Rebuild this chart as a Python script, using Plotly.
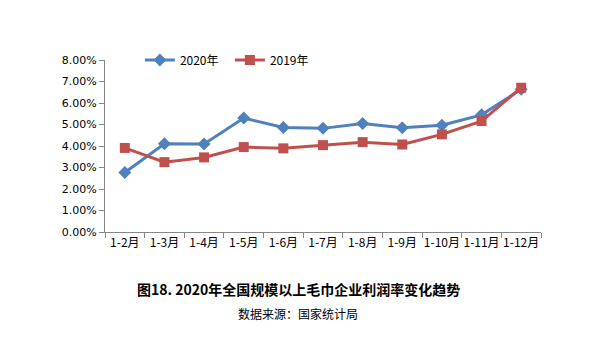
import plotly.graph_objects as go

months = ["1-2月", "1-3月", "1-4月", "1-5月", "1-6月", "1-7月", "1-8月", "1-9月", "1-10月", "1-11月", "1-12月"]
rate_2020 = [2.77, 4.10, 4.09, 5.30, 4.86, 4.82, 5.05, 4.85, 4.97, 5.45, 6.64]
rate_2019 = [3.91, 3.25, 3.47, 3.95, 3.89, 4.04, 4.18, 4.07, 4.54, 5.16, 6.71]
y_ticks = [0, 1, 2, 3, 4, 5, 6, 7, 8]

BLUE = "#4F81BD"
RED = "#C0504D"
LATIN = "Tahoma, 'DejaVu Sans', sans-serif"
CJK = "'Noto Sans CJK SC', sans-serif"

fig = go.Figure()
fig.add_trace(go.Scatter(
    x=months, y=rate_2020, name="2020年", mode="lines+markers",
    line=dict(color=BLUE, width=3),
    marker=dict(symbol="diamond", size=10, color=BLUE),
))
fig.add_trace(go.Scatter(
    x=months, y=rate_2019, name="2019年", mode="lines+markers",
    line=dict(color=RED, width=3),
    marker=dict(symbol="square", size=10, color=RED),
))

fig.update_layout(
    width=610, height=346,
    margin=dict(l=105, r=69, t=60, b=114),
    paper_bgcolor="white", plot_bgcolor="white",
    font=dict(family=LATIN, size=11, color="black"),
    legend=dict(
        orientation="h", x=0.08, y=1.0, xanchor="left", yanchor="middle",
        bgcolor="rgba(0,0,0,0)", font=dict(family=CJK, size=12),
        itemwidth=30, entrywidth=45, entrywidthmode="pixels", tracegroupgap=0,
    ),
    xaxis=dict(
        type="category", showgrid=False, showline=True, linecolor="#868686", linewidth=1,
        ticks="outside", tickson="boundaries", ticklen=5, tickcolor="#868686",
        tickangle=0, tickfont=dict(family=CJK, size=12), range=[-0.5, 10.5],
    ),
    yaxis=dict(
        range=[0, 8], tickvals=y_ticks, ticktext=[f"{v:.2f}%" for v in y_ticks],
        showgrid=False, showline=True, linecolor="#868686", linewidth=1,
        ticks="outside", ticklen=5, tickcolor="#868686", zeroline=False,
        tickfont=dict(family=LATIN, size=11),
    ),
)

# caption lines placed in pixel terms below the plot area
plot_w = 610 - 105 - 69
plot_h = 346 - 60 - 114
captions = [
    ("<b>图18. 2020年全国规模以上毛巾企业利润率变化趋势</b>", 289, 14),
    ("数据来源：国家统计局", 313, 12),
]
for text, py, size in captions:
    fig.add_annotation(
        text=text, xref="paper", yref="paper",
        x=(298 - 105) / plot_w, y=(346 - 114 - py) / plot_h,
        xanchor="center", yanchor="middle", showarrow=False,
        font=dict(family=CJK, size=size),
    )

fig.write_html("out.html")
